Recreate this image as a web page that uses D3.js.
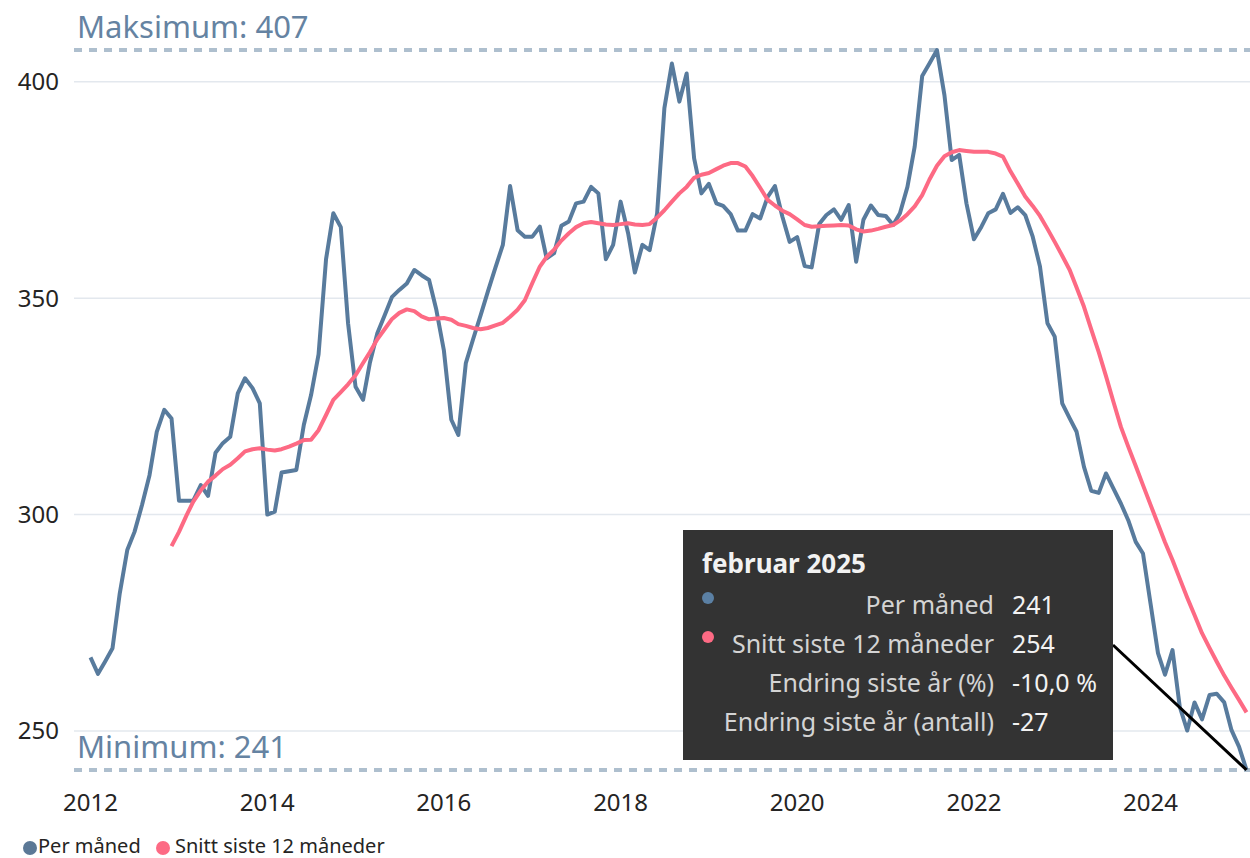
<!DOCTYPE html>
<html>
<head>
<meta charset="utf-8">
<script src="https://cdn.jsdelivr.net/npm/d3@7"></script>
<style>
  body { margin: 0; background: #ffffff; }
  svg text { font-family: "Noto Sans", "Open Sans", sans-serif; }
</style>
</head>
<body>
<div id="chart"></div>
<script>

// Categories: one point per month, Jan 2012 - Feb 2025
var firstMonth = new Date(2012, 0, 1);
var lastMonth = new Date(2025, 1, 1);

// Per måned
var perMonth = [
  267, 263.2, 266, 269.1, 281.8, 291.8, 296, 302.2, 309.1, 319.1, 324.2, 322.2,
  303.2, 303.2, 303.2, 306.8, 304.3, 314.3, 316.5, 318, 328, 331.5, 329.2, 325.7,
  300, 300.7, 309.7, 310, 310.3, 320.7, 327.6, 337, 359, 369.6, 366.4, 344.2,
  329.5, 326.5, 335, 341.9, 346, 350.3, 351.9, 353.4, 356.5, 355.3, 354.2, 347.3,
  338, 321.9, 318.4, 335, 340.5, 346, 351.5, 357, 362.3, 375.9, 365.7, 364.2,
  364.2, 366.5, 359.2, 360.4, 366.7, 367.7, 371.9, 372.3, 375.7, 374.2, 359, 362.3,
  372.3, 365, 355.9, 362.3, 361.1, 369.6, 393.9, 404.2, 395.4, 401.9, 382.3, 374.2,
  376.4, 371.9, 371.3, 369.4, 365.6, 365.6, 369.4, 368.4, 373.4, 375.9, 368.8, 363,
  364.1, 357.4, 357.1, 367.1, 369.2, 370.5, 368.1, 371.5, 358.4, 368.1, 371.4, 369.2,
  369, 366.9, 369.6, 375.7, 385, 401.3, 404.2, 407.3, 396.9, 381.9, 383.1, 371.9,
  363.6, 366.5, 369.6, 370.5, 374.1, 369.7, 371, 369.2, 364.2, 357.3, 344.2, 341.1,
  325.7, 322.2, 319.2, 311, 305.5, 305, 309.5, 306, 302.5, 298.7, 293.7, 291,
  279.5, 268, 263, 268.7, 255.6, 250.1, 256.6, 252.7, 258.3, 258.6, 256.6, 250.2,
  246.4, 241
];

// Snitt siste 12 måneder (starts Dec 2012)
var rolling12 = [
  null, null, null, null, null, null, null, null, null, null, null, 292.7,
  296, 299.8, 303, 305.6, 307.6, 309, 310.5, 311.5, 313, 314.6, 315.1, 315.3,
  315, 314.8, 315.1, 315.7, 316.4, 317.2, 317.3, 319.5, 323, 326.5, 328.3, 330.1,
  332.2, 335, 337.5, 340.5, 342.8, 345.2, 346.6, 347.4, 347, 345.8, 345.1, 345.3,
  345.4, 345, 344, 343.6, 343.1, 342.8, 343.1, 343.7, 344.3, 345.7, 347.3, 349.5,
  353.5, 357.3, 359.5, 361.2, 363.3, 365, 366.4, 367.3, 367.6, 367.3, 367, 366.9,
  367.1, 367.3, 367, 366.9, 367.1, 368.6, 370.3, 372.3, 374.2, 375.7, 377.8, 378.5,
  378.9, 379.8, 380.6, 381.2, 381.2, 380.4, 378.2, 375.5, 372.7, 371.4, 370.2, 369.4,
  368.2, 366.9, 366.5, 366.6, 366.7, 366.8, 366.9, 366.8, 365.9, 365.4, 365.6, 366,
  366.5, 366.9, 367.9, 369.4, 371.2, 373.8, 377.4, 380.6, 382.8, 383.7, 384.2, 384,
  383.8, 383.8, 383.8, 383.4, 382.7, 379.3, 376.5, 373.5, 371.3, 369, 366, 363,
  359.8, 356.5, 352.5, 348, 342.8, 337.5, 332, 326, 320.2, 315.7, 311.2, 306.8,
  302.3, 297.8, 293.6, 289.5, 285.2, 280.8, 276.8, 272.6, 269.2, 266, 262.8, 260,
  257.2, 254.3
];

// Tick labels
var yTicks = [250, 300, 350, 400];
var xTickYears = [2012, 2014, 2016, 2018, 2020, 2022, 2024];

// Legend and tooltip texts
var seriesNames = ['Per måned', 'Snitt siste 12 måneder'];
var tooltipTitle = 'februar 2025';
var tooltipLabels = ['Per måned', 'Snitt siste 12 måneder', 'Endring siste år (%)', 'Endring siste år (antall)'];
var tooltipValues = ['241', '254', '-10,0 %', '-27'];

// Exposed variables
var attrs = {
  svgWidth: 1250,
  svgHeight: 858,
  plotLeft: 74,
  xStart: 90.5,
  xEnd: 1246.5,
  yTop: 81.7,     // pixel of 400
  yBottom: 731,   // pixel of 250
  blue: '#587b9d',
  pink: '#fd6a84',
  gridColor: '#e3e8ee',
  refColor: '#aebfce',
  refText: '#6583a2',
  axisText: '#252423'
};

var months = d3.timeMonth.range(firstMonth, d3.timeMonth.offset(lastMonth, 1));
var data = months.map(function (d, i) {
  return { date: d, perMonth: perMonth[i], rolling: rolling12[i] };
});

//Scales
var x = d3.scaleTime()
  .domain([firstMonth, lastMonth])
  .range([attrs.xStart, attrs.xEnd]);

var y = d3.scaleLinear()
  .domain([250, 400])
  .range([attrs.yBottom, attrs.yTop]);

//Add svg
var svg = d3.select('#chart').append('svg')
  .attr('width', attrs.svgWidth)
  .attr('height', attrs.svgHeight);

//Gridlines
svg.append('g').attr('class', 'grid')
  .selectAll('line')
  .data(yTicks)
  .enter().append('line')
  .attr('x1', attrs.plotLeft)
  .attr('x2', attrs.svgWidth)
  .attr('y1', function (d) { return y(d); })
  .attr('y2', function (d) { return y(d); })
  .attr('stroke', attrs.gridColor)
  .attr('stroke-width', 1.5);

//Y axis labels
svg.append('g').attr('class', 'y-axis')
  .selectAll('text')
  .data(yTicks)
  .enter().append('text')
  .attr('x', 59)
  .attr('y', function (d) { return y(d); })
  .attr('dy', '0.35em')
  .attr('text-anchor', 'end')
  .attr('font-size', 24)
  .attr('fill', attrs.axisText)
  .text(function (d) { return d; });

//X axis labels
svg.append('g').attr('class', 'x-axis')
  .selectAll('text')
  .data(xTickYears)
  .enter().append('text')
  .attr('x', function (d) { return x(new Date(d, 0, 1)); })
  .attr('y', 811)
  .attr('text-anchor', 'middle')
  .attr('font-size', 24)
  .attr('fill', attrs.axisText)
  .text(function (d) { return d; });

//Max / min reference lines
var maxVal = d3.max(perMonth);
var minVal = d3.min(perMonth);
var refs = [
  { label: 'Maksimum: ' + Math.round(maxVal), v: maxVal, ty: 38 },
  { label: 'Minimum: ' + Math.round(minVal), v: minVal, ty: 758 }
];

var refGroup = svg.append('g').attr('class', 'refs');
refGroup.selectAll('line')
  .data(refs)
  .enter().append('line')
  .attr('x1', attrs.plotLeft)
  .attr('x2', attrs.svgWidth)
  .attr('y1', function (d) { return y(d.v); })
  .attr('y2', function (d) { return y(d.v); })
  .attr('stroke', attrs.refColor)
  .attr('stroke-width', 4)
  .attr('stroke-dasharray', '8,7');

refGroup.selectAll('text')
  .data(refs)
  .enter().append('text')
  .attr('x', 77)
  .attr('y', function (d) { return d.ty; })
  .attr('font-size', 31)
  .attr('fill', attrs.refText)
  .text(function (d) { return d.label; });

//Lines
var lineBlue = d3.line()
  .x(function (d) { return x(d.date); })
  .y(function (d) { return y(d.perMonth); });

var linePink = d3.line()
  .defined(function (d) { return d.rolling != null; })
  .x(function (d) { return x(d.date); })
  .y(function (d) { return y(d.rolling); });

svg.append('path')
  .datum(data)
  .attr('d', lineBlue)
  .attr('fill', 'none')
  .attr('stroke', attrs.blue)
  .attr('stroke-width', 4)
  .attr('stroke-linejoin', 'round');

svg.append('path')
  .datum(data)
  .attr('d', linePink)
  .attr('fill', 'none')
  .attr('stroke', attrs.pink)
  .attr('stroke-width', 4)
  .attr('stroke-linejoin', 'round');

//Legend
var legend = svg.append('g').attr('class', 'legend');
var legendItems = [
  { name: seriesNames[0], color: '#5b7896', cx: 30, tx: 38 },
  { name: seriesNames[1], color: attrs.pink, cx: 163, tx: 175 }
];
legend.selectAll('circle')
  .data(legendItems)
  .enter().append('circle')
  .attr('cx', function (d) { return d.cx; })
  .attr('cy', 848)
  .attr('r', 7)
  .attr('fill', function (d) { return d.color; });
legend.selectAll('text')
  .data(legendItems)
  .enter().append('text')
  .attr('x', function (d) { return d.tx; })
  .attr('y', 853)
  .attr('font-size', 20)
  .attr('fill', attrs.axisText)
  .text(function (d) { return d.name; });

//Tooltip
var last = data[data.length - 1];
var tip = svg.append('g').attr('class', 'tooltip');

tip.append('line')
  .attr('x1', 1113)
  .attr('y1', 645)
  .attr('x2', x(last.date))
  .attr('y2', y(last.perMonth))
  .attr('stroke', '#000')
  .attr('stroke-width', 3);

tip.append('rect')
  .attr('x', 683)
  .attr('y', 530)
  .attr('width', 430)
  .attr('height', 230)
  .attr('fill', '#333333');

tip.append('text')
  .attr('x', 702)
  .attr('y', 573)
  .attr('font-size', 26)
  .attr('font-weight', 'bold')
  .attr('fill', '#f2f2f2')
  .text(tooltipTitle);

var rowY = [614, 653, 692, 731];
var dotColors = ['#5b80a4', attrs.pink];

tip.selectAll('circle')
  .data(dotColors)
  .enter().append('circle')
  .attr('cx', 708)
  .attr('cy', function (d, i) { return rowY[i] - 16; })
  .attr('r', 6)
  .attr('fill', function (d) { return d; });

tip.selectAll('.tip-label')
  .data(tooltipLabels)
  .enter().append('text')
  .attr('class', 'tip-label')
  .attr('x', 994)
  .attr('y', function (d, i) { return rowY[i]; })
  .attr('text-anchor', 'end')
  .attr('font-size', 25)
  .attr('fill', '#d4d4d4')
  .text(function (d) { return d; });

tip.selectAll('.tip-value')
  .data(tooltipValues)
  .enter().append('text')
  .attr('class', 'tip-value')
  .attr('x', 1012)
  .attr('y', function (d, i) { return rowY[i]; })
  .attr('font-size', 25)
  .attr('fill', '#f2f2f2')
  .text(function (d) { return d; });

</script>
</body>
</html>
